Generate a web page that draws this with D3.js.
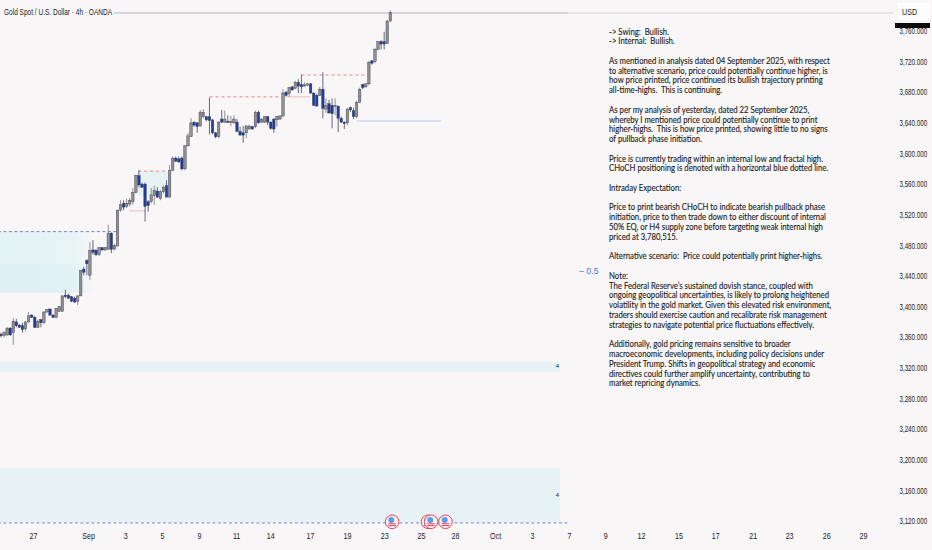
<!DOCTYPE html>
<html>
<head>
<meta charset="utf-8">
<script src="https://cdn.jsdelivr.net/npm/d3@7"></script>
<style>
  html, body { margin: 0; padding: 0; background: #f8f6f7; }
  svg { display: block; }
  text { font-family: "Liberation Sans", sans-serif; fill: #1c1c22; }
  .axis text { font-family: "Liberation Sans", sans-serif; font-size: 8.4px; }
  .notes text { font-family: Lato, sans-serif; font-size: 8.8px; white-space: pre; stroke: #1c1c22; stroke-width: .12px; }
</style>
</head>
<body>
<script>
// 4h candles
var opens = [3364,3362,3363,3372,3366,3380,3376,3375,3371,3380,3389,3386,3373,3383,3379,3393,3397,3389,3386,3394,
  3394,3415,3415,3413,3411,3407,3414,3449,3460,3441,3474,3474,3468,3477,3474,3475,3496,3475,3479,3526,
  3535,3531,3534,3537,3549,3571,3560,3560,3537,3537,3545,3551,3541,3550,3558,3543,3578,3594,3593,3594,
  3580,3610,3622,3641,3640,3636,3648,3648,3648,3644,3627,3622,3645,3641,3642,3641,3640,3641,3629,3627,
  3627,3632,3635,3635,3654,3641,3641,3648,3641,3645,3644,3645,3649,3680,3678,3687,3685,3693,3690,3688,
  3689,3691,3679,3676,3676,3684,3658,3665,3663,3662,3662,3646,3641,3640,3660,3656,3648,3667,3690,3687,
  3691,3721,3720,3736,3746,3746,3744,3773]
var closes = [3362,3366,3372,3363,3381,3375,3373,3370,3380,3388,3386,3373,3381,3379,3393,3396,3389,3386,3398,3400,
  3414,3413,3411,3407,3406,3414,3447,3445,3456,3473,3471,3468,3477,3474,3477,3496,3475,3480,3526,3533,
  3530,3535,3539,3549,3571,3559,3556,3531,3532,3546,3552,3543,3550,3556,3543,3578,3594,3590,3589,3580,
  3610,3623,3640,3637,3635,3654,3654,3644,3643,3627,3622,3641,3641,3645,3641,3642,3645,3629,3624,3624,
  3636,3636,3632,3654,3640,3645,3648,3641,3633,3632,3648,3649,3679,3676,3686,3683,3693,3688,3687,3690,
  3691,3679,3663,3662,3684,3659,3663,3653,3652,3663,3646,3641,3639,3658,3657,3648,3667,3684,3686,3691,
  3719,3718,3736,3746,3743,3743,3773,3784]
var highs = [3366,3368,3373,3373,3385,3384,3377,3379,3381,3393,3390,3388,3383,3384,3394,3397,3397,3390,3398,3401,
  3415,3422,3417,3414,3413,3415,3448,3452,3462,3484,3487,3474,3478,3478,3478,3507,3497,3482,3527,3539,
  3539,3541,3542,3555,3572,3578,3562,3562,3539,3555,3558,3556,3552,3558,3565,3585,3596,3596,3596,3596,
  3611,3627,3646,3642,3641,3657,3658,3649,3673,3645,3628,3642,3657,3656,3650,3649,3650,3645,3635,3636,
  3637,3637,3636,3656,3656,3646,3649,3649,3642,3646,3649,3650,3684,3682,3687,3688,3695,3697,3703,3693,
  3692,3692,3680,3678,3687,3706,3672,3670,3672,3672,3662,3648,3642,3660,3661,3660,3669,3686,3691,3692,
  3721,3722,3738,3747,3748,3759,3774,3787]
var lows = [3360,3360,3362,3362,3350,3373,3372,3366,3368,3379,3385,3372,3372,3373,3377,3392,3388,3385,3385,3393,
  3393,3411,3410,3406,3405,3402,3414,3441,3441,3435,3468,3466,3466,3473,3473,3474,3470,3474,3479,3524,
  3526,3529,3531,3533,3548,3556,3555,3511,3524,3535,3533,3542,3539,3548,3543,3543,3577,3589,3588,3578,
  3578,3609,3622,3635,3627,3635,3646,3642,3625,3625,3620,3620,3640,3640,3640,3636,3639,3628,3624,3614,
  3620,3631,3631,3633,3639,3640,3640,3637,3631,3627,3635,3644,3648,3675,3674,3682,3684,3679,3679,3687,
  3688,3678,3662,3661,3675,3646,3653,3652,3633,3650,3628,3640,3632,3637,3654,3645,3646,3666,3684,3686,
  3689,3716,3718,3735,3736,3736,3743,3772]

var priceTicks = d3.range(3120, 3761, 40)
var dayLabels = ["27","Sep","3","5","9","11","14","17","19","23","25","28","Oct","3","7","9","12","15","17","21","23","26","29"]
var dayBars = [10.4,28.4,40.5,52.5,64.6,76.7,87.8,100.8,112.9,125,137,148.1,161.2,173.2,185.3,197.1,208.8,221,233,245.2,257.1,269.2,281.2]

// zones: [from bar, to bar, top price, bottom price]
var bigZones = [[-1,182.4,3328,3315],[-1,182.4,3189,3119]]
var fadeZones = [[-1,30,3498,3456],[-1,30,3456,3418]]
var smallZone = [44.7,54.5,3577,3545]
// levels: [from bar, to bar, price]
var dashedRed = [[44.7,54.5,3577],[68,92,3674],[98,119.4,3702.5]]
var solidPink = [[42,47,3525],[92,100.8,3674]]
var dashedBlue = [[-1,38,3498],[-1,185,3117.5]]
var zoneLabels = [[181,3323,"4"],[181,3154,"4"]]
var flagBars = [127.6,139.3,140.3,145]
var flagPrice = 3119

var notes = [
  "-> Swing:  Bullish.",
  "-> Internal:  Bullish.",
  "",
  "As mentioned in analysis dated 04 September 2025, with respect",
  "to alternative scenario, price could potentially continue higher, is",
  "how price printed, price continued its bullish trajectory printing",
  "all-time-highs.  This is continuing.",
  "",
  "As per my analysis of yesterday, dated 22 September 2025,",
  "whereby I mentioned price could potentially continue to print",
  "higher-highs.  This is how price printed, showing little to no signs",
  "of pullback phase initiation.",
  "",
  "Price is currently trading within an internal low and fractal high.",
  "CHoCH positioning is denoted with a horizontal blue dotted line.",
  "",
  "Intraday Expectation:",
  "",
  "Price to print bearish CHoCH to indicate bearish pullback phase",
  "initiation, price to then trade down to either discount of internal",
  "50% EQ, or H4 supply zone before targeting weak internal high",
  "priced at 3,780,515.",
  "",
  "Alternative scenario:  Price could potentially print higher-highs.",
  "",
  "Note:",
  "The Federal Reserve\u2019s sustained dovish stance, coupled with",
  "ongoing geopolitical uncertainties, is likely to prolong heightened",
  "volatility in the gold market. Given this elevated risk environment,",
  "traders should exercise caution and recalibrate risk management",
  "strategies to navigate potential price fluctuations effectively.",
  "",
  "Additionally, gold pricing remains sensitive to broader",
  "macroeconomic developments, including policy decisions under",
  "President Trump. Shifts in geopolitical strategy and economic",
  "directives could further amplify uncertainty, contributing to",
  "market repricing dynamics."
]

var w = 932, h = 550

var svg = d3.select("body").append("svg")
    .attr("width", w).attr("height", h)

var x = d3.scaleLinear().domain([0, 127]).range([1, 390.3])
var y = d3.scaleLinear().domain([3120, 3760]).range([521, 31])

// no narrow font installed, so squeeze the glyphs to the reference widths
function squeeze(sel, f) {
  sel.each(function() {
    var len = this.getComputedTextLength()
    if (len > 0) d3.select(this).attr("textLength", len * f).attr("lengthAdjust", "spacingAndGlyphs")
  })
}

var defs = svg.append("defs")
var grad = defs.append("linearGradient").attr("id", "fade")
grad.append("stop").attr("offset", 0).attr("stop-color", "#e4f3f5")
grad.append("stop").attr("offset", .8).attr("stop-color", "#e8f4f5")
grad.append("stop").attr("offset", 1).attr("stop-color", "#f8f6f7")
var grad2 = defs.append("linearGradient").attr("id", "fadeLow")
grad2.append("stop").attr("offset", 0).attr("stop-color", "#dff0f4")
grad2.append("stop").attr("offset", .8).attr("stop-color", "#e2f2f4")
grad2.append("stop").attr("offset", 1).attr("stop-color", "#f8f6f7")

function zoneRects(rows, fill) {
  svg.append("g").selectAll("rect").data(rows).enter().append("rect")
    .attr("x", function(d) { return x(d[0]) })
    .attr("width", function(d) { return x(d[1]) - x(d[0]) })
    .attr("y", function(d) { return y(d[2]) })
    .attr("height", function(d) { return y(d[3]) - y(d[2]) })
    .attr("fill", fill)
}
zoneRects(bigZones, "#e6f2f3")
zoneRects([fadeZones[0]], "url(#fade)")
zoneRects([fadeZones[1]], "url(#fadeLow)")
zoneRects([smallZone], "#e6f2f1")

function levelLines(rows, color, dash, width) {
  svg.append("g").selectAll("line").data(rows).enter().append("line")
    .attr("x1", function(d) { return x(d[0]) })
    .attr("x2", function(d) { return x(d[1]) })
    .attr("y1", function(d) { return y(d[2]) })
    .attr("y2", function(d) { return y(d[2]) })
    .attr("stroke", color)
    .attr("stroke-width", width)
    .attr("stroke-dasharray", dash)
}
levelLines([[-1,185,3783.5]], "#b4b4bc", null, 1)
levelLines([[185,291,3783.5]], "#d0d0d4", null, 1)
levelLines(dashedRed, "#e8677a", "3 3", .8)
levelLines(solidPink, "#f0a8b4", null, .8)
levelLines(dashedBlue, "#6f86e0", "3 2.5", 1)
levelLines([[116,143.6,3642.5]], "#bcc8ee", null, 1)

// candles
var candle = svg.append("g").selectAll("g").data(d3.range(opens.length)).enter().append("g")
candle.append("line")
    .attr("x1", function(i) { return x(i) })
    .attr("x2", function(i) { return x(i) })
    .attr("y1", function(i) { return y(highs[i]) })
    .attr("y2", function(i) { return y(lows[i]) })
    .attr("stroke", function(i) { return closes[i] >= opens[i] ? "#77777b" : "#40455c" })
    .attr("stroke-width", .8)
candle.append("rect")
    .attr("x", function(i) { return x(i) - 1.25 })
    .attr("width", 2.5)
    .attr("y", function(i) { return y(Math.max(opens[i], closes[i])) })
    .attr("height", function(i) { return Math.max(1, Math.abs(y(opens[i]) - y(closes[i]))) })
    .attr("fill", function(i) { return closes[i] >= opens[i] ? "#8f8f92" : "#1f3c9e" })
    .attr("stroke", "#3a3c48")
    .attr("stroke-width", .4)

svg.append("g").selectAll("text").data(zoneLabels).enter().append("text")
    .attr("x", function(d) { return x(d[0]) })
    .attr("y", function(d) { return y(d[1]) })
    .attr("dy", "0.35em")
    .style("font-size", "6px")
    .text(function(d) { return d[2] })

// flags on the calendar line
var flag = svg.append("g").selectAll("g").data(flagBars).enter().append("g")
    .attr("transform", function(d) { return "translate(" + x(d) + "," + y(flagPrice) + ")" })
flag.append("circle").attr("r", 6.8).attr("fill", "#fdf4f5").attr("stroke", "#e8405f").attr("stroke-width", 1)
flag.append("circle").attr("cx", -.8).attr("cy", -1.8).attr("r", 3).attr("fill", "#5c9de8")
flag.selectAll("line").data([2, 3.8]).enter().append("line")
    .attr("x1", -3.8).attr("x2", 3.8)
    .attr("y1", function(d) { return d })
    .attr("y2", function(d) { return d })
    .attr("stroke", "#e8405f")

// axes
var yAxis = svg.append("g").attr("class", "axis")
    .attr("transform", "translate(899.5,0)")
    .call(d3.axisRight(y).tickValues(priceTicks).tickSize(0).tickPadding(0).tickFormat(d3.format(",.3f")))
yAxis.select(".domain").remove()
yAxis.selectAll("text").attr("transform", "scale(.74,1)")

var xAxis = svg.append("g").attr("class", "axis")
    .attr("transform", "translate(0,533)")
    .call(d3.axisBottom(x).tickValues(dayBars).tickSize(0).tickPadding(0)
      .tickFormat(function(d, i) { return dayLabels[i] }))
xAxis.select(".domain").remove()
squeeze(xAxis.selectAll("text"), .85)

// price tag and currency box
svg.append("rect").attr("x", 895).attr("y", 23).attr("width", 35).attr("height", 5).attr("fill", "#0b0b0b")
svg.append("rect").attr("x", 898).attr("y", 3).attr("width", 32).attr("height", 17).attr("fill", "#fff")
svg.append("text").attr("x", 902).attr("y", 15).style("font-size", "8.4px").text("USD").call(squeeze, .85)

// title
svg.append("rect").attr("x", 0).attr("y", 6).attr("width", 114).attr("height", 12).attr("fill", "#f8f6f7")
svg.append("text").attr("x", 4).attr("y", 15).style("font-size", "8.9px")
    .text("Gold Spot / U.S. Dollar \u00b7 4h \u00b7 OANDA")
    .attr("textLength", 108).attr("lengthAdjust", "spacingAndGlyphs")

// fib label
svg.append("text").attr("x", 579).attr("y", 274).style("font-size", "8.8px").style("fill", "#3f78d8").text("\u2013  0.5")

// notes panel
var noteText = svg.append("g").attr("class", "notes").selectAll("text").data(notes).enter().append("text")
    .attr("x", 609)
    .attr("y", function(d, i) { return 34.6 + i * 9.77 })
    .text(function(d) { return d })
squeeze(noteText, .882)
</script>
</body>
</html>
